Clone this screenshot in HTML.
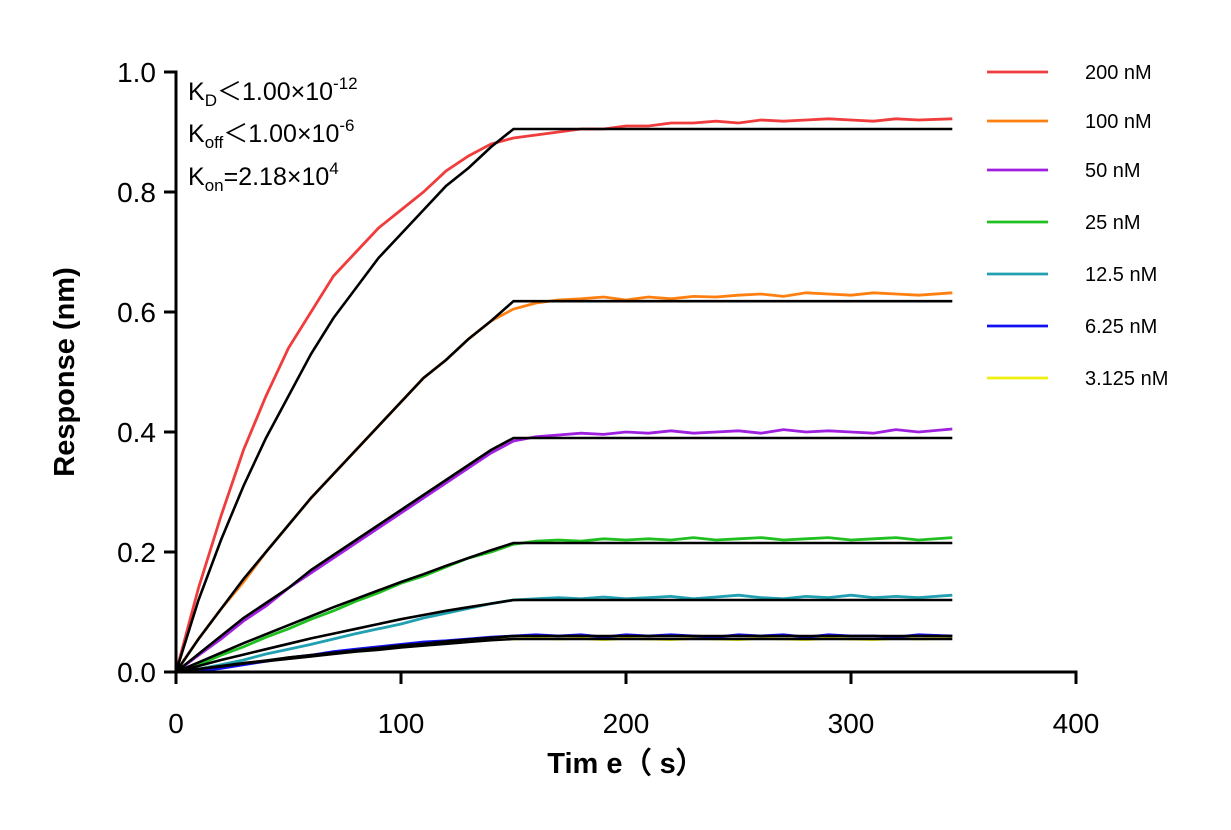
<!DOCTYPE html>
<html><head><meta charset="utf-8"><style>
body{margin:0;background:#fff;}
svg text{font-family:"Liberation Sans",Arial,sans-serif;}
</style></head><body>
<svg id="chart" width="1231" height="825" xmlns="http://www.w3.org/2000/svg">
<g id="plot"></g>
<g id="axes"></g>
<g id="legend"></g>
<g font-size="25" fill="#000">
<text x="188" y="100">K<tspan font-size="17" dy="6">D</tspan><tspan dy="-6">＜1.00×10</tspan><tspan font-size="17" dy="-11">-12</tspan></text>
<text x="188" y="142">K<tspan font-size="17" dy="6">off</tspan><tspan dy="-6">＜1.00×10</tspan><tspan font-size="17" dy="-11">-6</tspan></text>
<text x="188" y="185">K<tspan font-size="17" dy="6">on</tspan><tspan dy="-6">=2.18×10</tspan><tspan font-size="17" dy="-11">4</tspan></text>
</g>
<text x="626" y="773" text-anchor="middle" font-size="29" font-weight="bold">Tim e（ s）</text>
<text transform="translate(74,372) rotate(-90)" text-anchor="middle" font-size="29" font-weight="bold">Response (nm)</text>
</svg>
<script>
const xTicks=[0,100,200,300,400];
const yTicks=[0.0,0.2,0.4,0.6,0.8,1.0];
const yTickLabels=["0.0","0.2","0.4","0.6","0.8","1.0"];
const seriesNames=["200 nM","100 nM","50 nM","25 nM","12.5 nM","6.25 nM","3.125 nM"];
const seriesColors=["#f03c3c","#ff8010","#a020e0","#20c020","#20a0b0","#1010f0","#f0f010"];
const dataTimes=[0,10,20,30,40,50,60,70,80,90,100,110,120,130,140,150,160,170,180,190,200,210,220,230,240,250,260,270,280,290,300,310,320,330,345];
const d200=[0,0.14,0.26,0.37,0.46,0.54,0.6,0.66,0.7,0.74,0.77,0.8,0.835,0.86,0.88,0.89,0.895,0.9,0.905,0.905,0.91,0.91,0.915,0.915,0.918,0.915,0.92,0.918,0.92,0.922,0.92,0.918,0.922,0.92,0.922];
const d100=[0,0.055,0.105,0.15,0.2,0.245,0.29,0.33,0.37,0.41,0.45,0.49,0.52,0.555,0.585,0.605,0.615,0.62,0.622,0.625,0.62,0.625,0.622,0.626,0.625,0.628,0.63,0.626,0.632,0.63,0.628,0.632,0.63,0.628,0.632];
const d50=[0,0.028,0.055,0.085,0.11,0.14,0.165,0.19,0.215,0.24,0.265,0.29,0.315,0.34,0.365,0.385,0.392,0.395,0.398,0.396,0.4,0.398,0.402,0.398,0.4,0.402,0.398,0.404,0.4,0.402,0.4,0.398,0.404,0.4,0.405];
const d25=[0,0.012,0.028,0.042,0.058,0.072,0.088,0.102,0.118,0.132,0.148,0.16,0.175,0.19,0.2,0.213,0.218,0.22,0.218,0.222,0.22,0.222,0.22,0.224,0.22,0.222,0.224,0.22,0.222,0.224,0.22,0.222,0.224,0.22,0.224];
const d12=[0,0.005,0.012,0.02,0.03,0.038,0.046,0.055,0.064,0.072,0.08,0.09,0.098,0.106,0.114,0.12,0.122,0.124,0.122,0.125,0.122,0.124,0.126,0.122,0.125,0.128,0.124,0.122,0.126,0.124,0.128,0.124,0.126,0.124,0.128];
const d6=[0,0.002,0.006,0.012,0.018,0.024,0.028,0.034,0.038,0.042,0.046,0.05,0.052,0.055,0.058,0.06,0.062,0.06,0.062,0.058,0.062,0.06,0.062,0.06,0.058,0.062,0.06,0.062,0.058,0.062,0.06,0.06,0.058,0.062,0.06];
const d3=[0,0.004,0.008,0.014,0.018,0.024,0.028,0.032,0.036,0.04,0.044,0.046,0.05,0.052,0.054,0.055,0.056,0.055,0.056,0.054,0.056,0.055,0.054,0.056,0.055,0.054,0.056,0.055,0.054,0.056,0.055,0.054,0.056,0.055,0.056];
const fitTimes=[0,10,20,30,40,50,60,70,80,90,100,110,120,130,140,150,345];
const f200=[0,0.12,0.22,0.31,0.39,0.46,0.53,0.59,0.64,0.69,0.73,0.77,0.81,0.84,0.875,0.905,0.905];
const f100=[0,0.055,0.105,0.155,0.2,0.245,0.29,0.33,0.37,0.41,0.45,0.49,0.52,0.555,0.585,0.618,0.618];
const f50=[0,0.03,0.06,0.09,0.115,0.14,0.17,0.195,0.22,0.245,0.27,0.295,0.32,0.345,0.37,0.39,0.39];
const f25=[0,0.016,0.032,0.048,0.063,0.078,0.093,0.108,0.122,0.136,0.15,0.163,0.177,0.19,0.203,0.215,0.215];
const f12=[0,0.01,0.02,0.029,0.038,0.047,0.056,0.064,0.072,0.08,0.088,0.095,0.102,0.108,0.114,0.12,0.12];
const f6=[0,0.005,0.01,0.015,0.019,0.024,0.028,0.032,0.036,0.04,0.044,0.047,0.051,0.054,0.057,0.06,0.06];
const f3=[0,0.005,0.009,0.014,0.018,0.022,0.026,0.03,0.034,0.037,0.041,0.044,0.047,0.05,0.053,0.055,0.055];
const dataSeries=[d200,d100,d50,d25,d12,d6,d3];
const fitSeries=[f200,f100,f50,f25,f12,f6,f3];

const NS="http://www.w3.org/2000/svg";
const X=t=>176+t*(900/400);
const Y=v=>672-v*600;
function mk(tag,parent){const e=document.createElementNS(NS,tag);parent.appendChild(e);return e;}
const plot=document.getElementById('plot'),axes=document.getElementById('axes'),legend=document.getElementById('legend');
function pathD(ts,vs){return vs.map((v,i)=>(i?'L':'M')+X(ts[i]).toFixed(1)+','+Y(v).toFixed(1)).join('');}
for(let s=dataSeries.length-1;s>=0;s--){
  const p=mk('path',plot);
  
  
  p.setAttribute('d',pathD(dataTimes,dataSeries[s]));
  p.setAttribute('fill','none');p.setAttribute('stroke',seriesColors[s]);p.setAttribute('stroke-width','2.8');
}
for(let s=0;s<fitSeries.length;s++){
  const p=mk('path',plot);
  
  
  p.setAttribute('d',pathD(fitTimes,fitSeries[s]));
  p.setAttribute('fill','none');p.setAttribute('stroke','#000');p.setAttribute('stroke-width','2.6');
}
const xa=mk('line',axes);


xa.setAttribute('x1',X(0)-1.5);xa.setAttribute('x2',X(400)+1.5);xa.setAttribute('y1',Y(0));xa.setAttribute('y2',Y(0));xa.setAttribute('stroke','#000');xa.setAttribute('stroke-width','3');
const ya=mk('line',axes);


ya.setAttribute('x1',X(0));ya.setAttribute('x2',X(0));ya.setAttribute('y1',Y(1)-1.5);ya.setAttribute('y2',Y(0)+1.5);ya.setAttribute('stroke','#000');ya.setAttribute('stroke-width','3');
xTicks.forEach(t=>{
  const l=mk('line',axes);
  
  
  l.setAttribute('x1',X(t));l.setAttribute('x2',X(t));l.setAttribute('y1',Y(0));l.setAttribute('y2',Y(0)+12);l.setAttribute('stroke','#000');l.setAttribute('stroke-width','3');
  const tx=mk('text',axes);
  
  
  tx.setAttribute('x',X(t));tx.setAttribute('y',Y(0)+61);tx.setAttribute('text-anchor','middle');tx.setAttribute('font-size','28');tx.textContent=t;
});
yTicks.forEach((v,i)=>{
  const l=mk('line',axes);
  
  
  l.setAttribute('x1',X(0)-12);l.setAttribute('x2',X(0));l.setAttribute('y1',Y(v));l.setAttribute('y2',Y(v));l.setAttribute('stroke','#000');l.setAttribute('stroke-width','3');
  const tx=mk('text',axes);
  
  
  tx.setAttribute('x',X(0)-20);tx.setAttribute('y',Y(v)+10);tx.setAttribute('text-anchor','end');tx.setAttribute('font-size','28');tx.textContent=yTickLabels[i];
});
const legY=[72,121,170,222,274,326,378];
seriesNames.forEach((n,i)=>{
  const l=mk('line',legend);
  
  
  l.setAttribute('x1',987);l.setAttribute('x2',1048);l.setAttribute('y1',legY[i]);l.setAttribute('y2',legY[i]);l.setAttribute('stroke',seriesColors[i]);l.setAttribute('stroke-width','2.8');
  const tx=mk('text',legend);
  
  
  tx.setAttribute('x',1085);tx.setAttribute('y',legY[i]+7);tx.setAttribute('font-size','20');tx.textContent=n;
});
</script>
</body></html>
